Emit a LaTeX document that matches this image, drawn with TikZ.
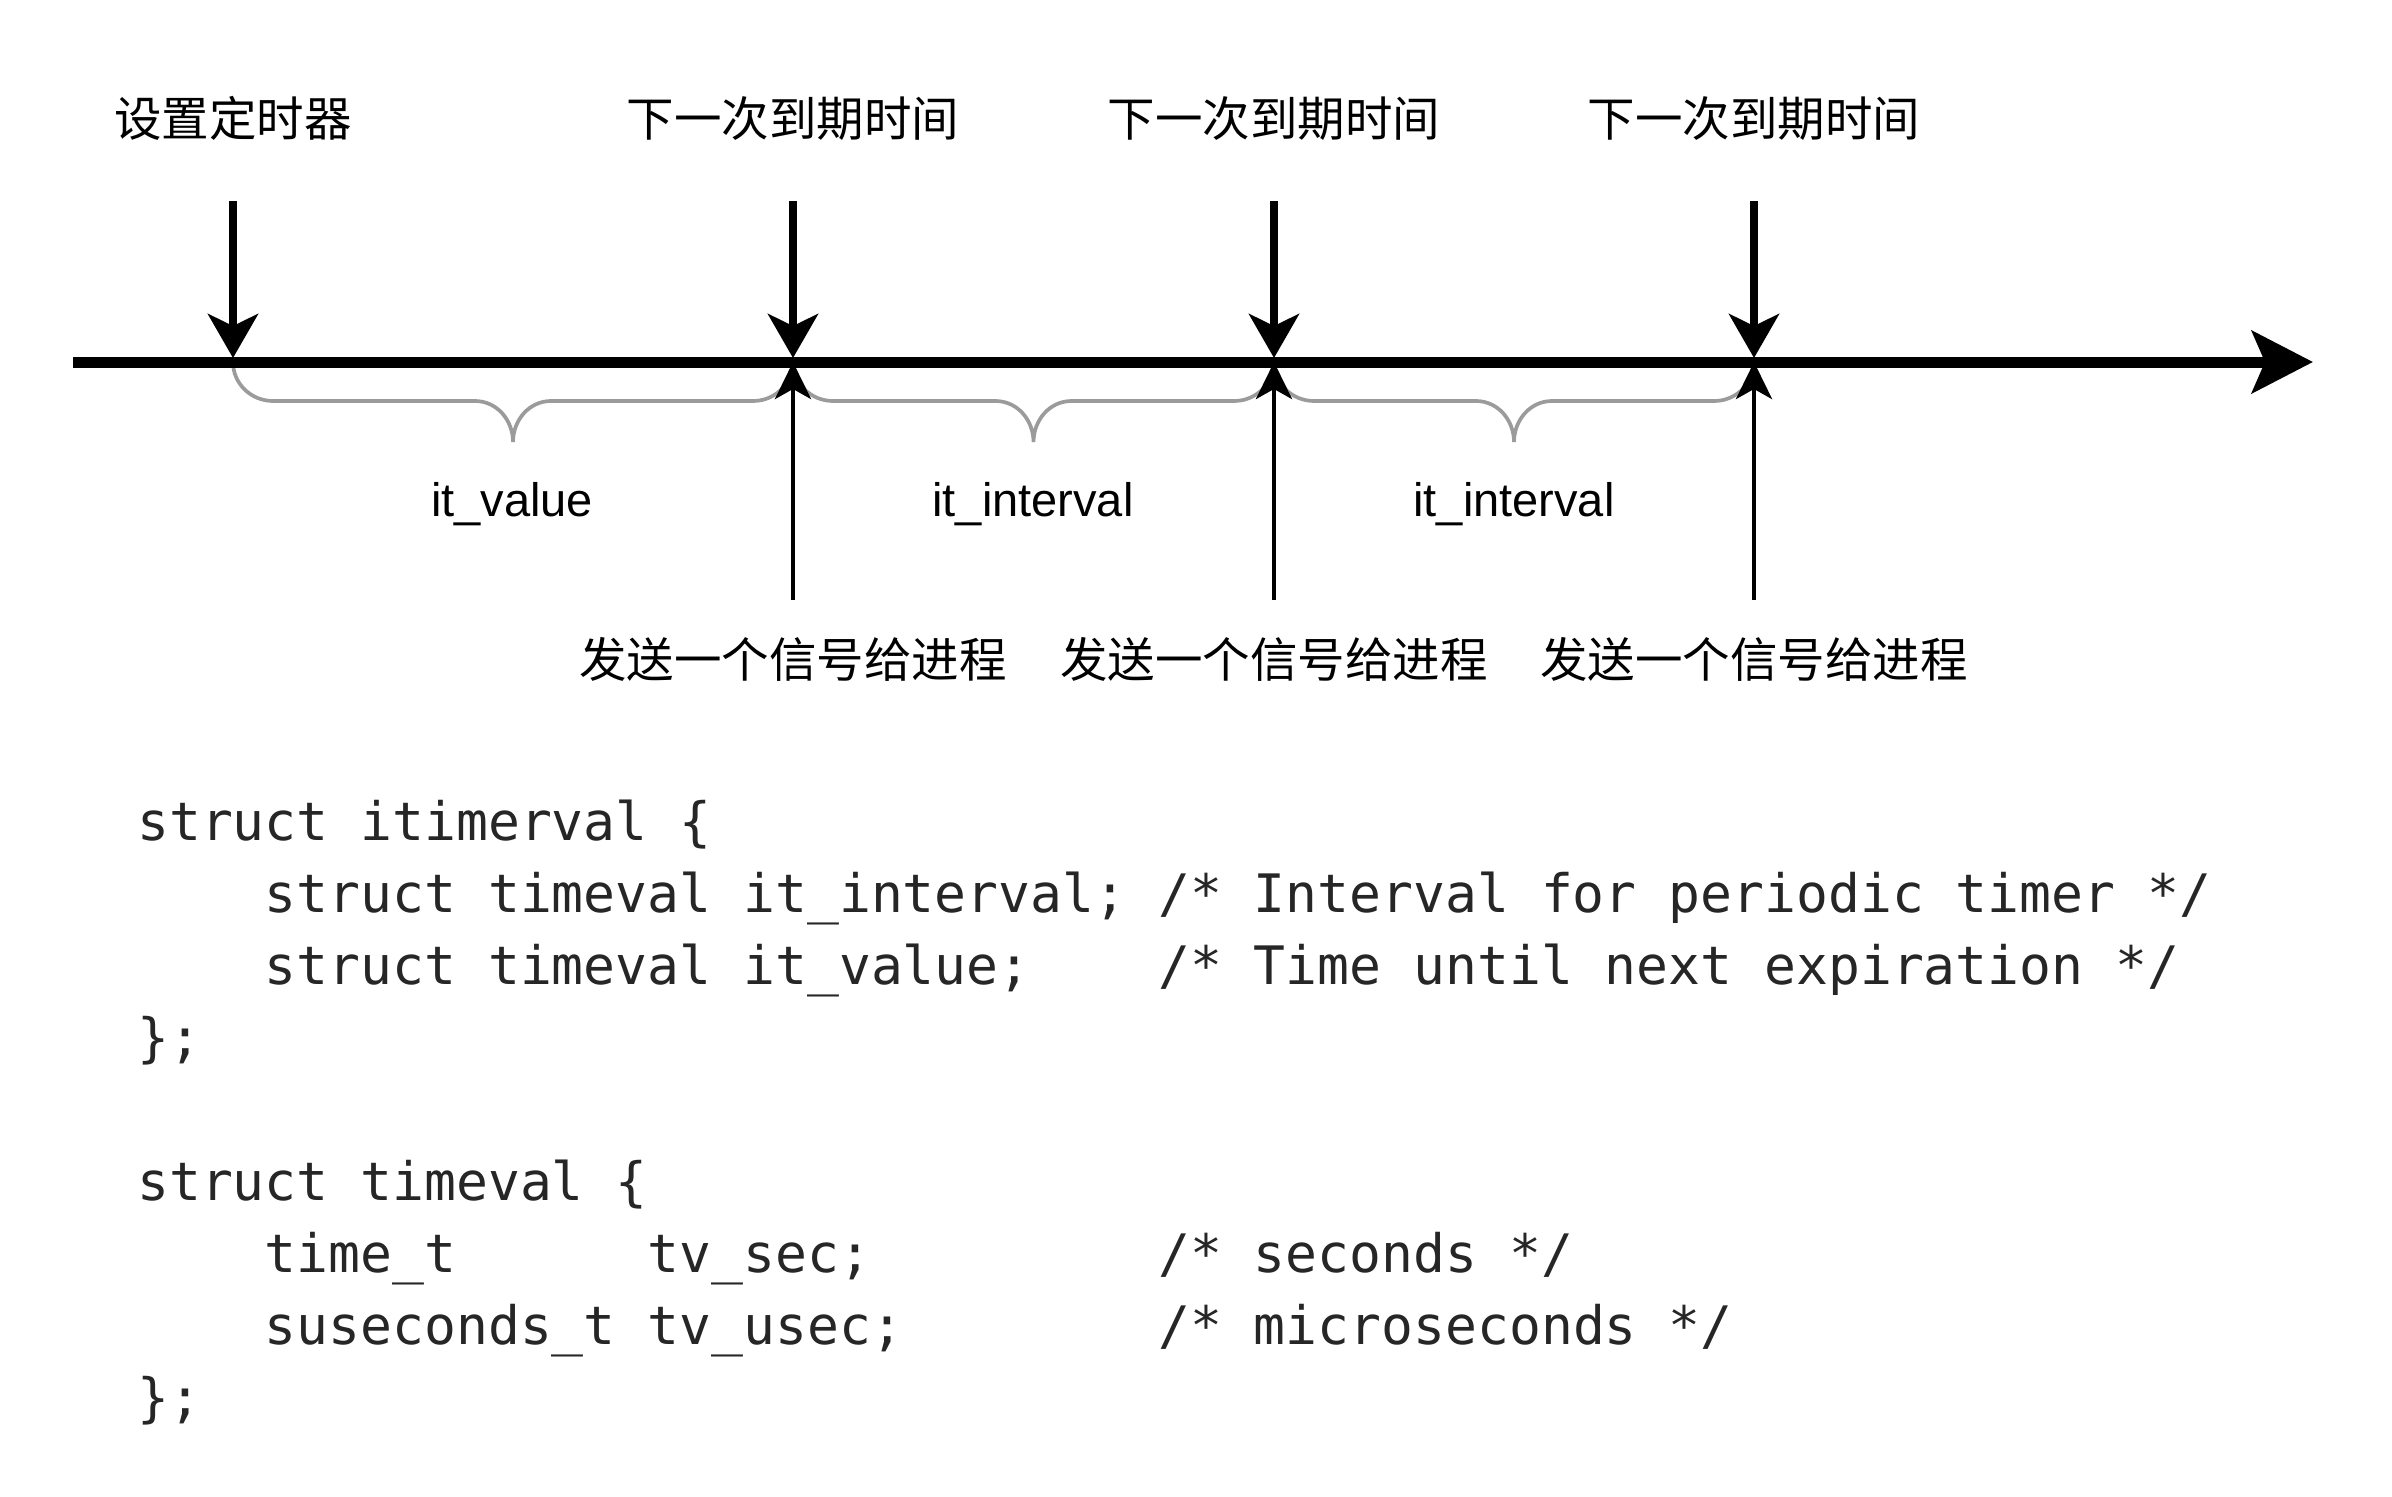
\documentclass[tikz,border=0pt]{standalone}
\usepackage{fontspec}
\setmainfont{Liberation Sans}
\newfontfamily\cjkfont{Noto Sans CJK SC}
\newfontfamily\codefont{DejaVu Sans Mono}
\usetikzlibrary{arrows.meta,calc}
\definecolor{bracegray}{HTML}{9B9B9B}
\definecolor{codecol}{HTML}{262626}
\newcommand\timebrace[2]{%
  \draw[bracestyle] (#1) to[out=-90,in=180] ($(#1)+(40,39)$)
    -- ($($(#1)!0.5!(#2)$)+(-38,39)$) to[out=0,in=90] ($($(#1)!0.5!(#2)$)+(0,80)$)
    to[out=90,in=180] ($($(#1)!0.5!(#2)$)+(38,39)$)
    -- ($(#2)+(-40,39)$) to[out=0,in=-90] (#2);}
\begin{document}
\begin{tikzpicture}[x=1pt,y=-1pt,
  axisline/.style={line width=11pt,-{Stealth[length=61pt,width=62pt,inset=13pt]}},
  downarrow/.style={line width=7.5pt,-{Stealth[length=44pt,width=50pt,inset=12pt]}},
  uparrow/.style={line width=4.5pt,-{Stealth[length=37pt,width=36pt,inset=10pt]}},
  bracestyle/.style={draw=bracegray,line width=3.7pt},
  cjklabel/.style={font=\cjkfont\fontsize{47.5}{57}\selectfont,anchor=base,inner sep=0pt},
  latlabel/.style={font=\fontsize{47}{56}\selectfont,anchor=base,inner sep=0pt},
  codeline/.style={font=\codefont\fontsize{53}{72}\selectfont,text=codecol,anchor=base west,inner sep=0pt}]
\useasboundingbox (0,0) rectangle (2392,1496);

% axis points
\coordinate (ax0) at (73,362);
\coordinate (ax1) at (2313,362);
\coordinate (t0) at (233,362);
\coordinate (t1) at (793,362);
\coordinate (t2) at (1274,362);
\coordinate (t3) at (1754,362);
\coordinate (d0) at (233,201);
\coordinate (d1) at (793,201);
\coordinate (d2) at (1274,201);
\coordinate (d3) at (1754,201);
\coordinate (u1) at (793,600);
\coordinate (u2) at (1274,600);
\coordinate (u3) at (1754,600);

% braces
\timebrace{t0}{t1}
\timebrace{t1}{t2}
\timebrace{t2}{t3}

% main axis
\draw[axisline] (ax0) -- (ax1);

% down arrows
\foreach \i in {0,1,2,3}{
  \draw[downarrow] (d\i) -- ($(t\i)+(0,-4)$);
}
% up arrows
\foreach \i in {1,2,3}{
  \draw[uparrow] (u\i) -- (t\i);
}

% top labels
\node[cjklabel] (l0) at (233,136) {设置定时器};
\node[cjklabel] (l1) at (793,136) {下一次到期时间};
\node[cjklabel] (l2) at (1274,136) {下一次到期时间};
\node[cjklabel] (l3) at (1754,136) {下一次到期时间};

% brace labels
\node[latlabel] (v1) at (512,516) {it\_value};
\node[latlabel] (i2) at (1033,516) {it\_interval};
\node[latlabel] (i3) at (1514,516) {it\_interval};

% bottom labels
\node[cjklabel] (b1) at (793,677) {发送一个信号给进程};
\node[cjklabel] (b2) at (1274,677) {发送一个信号给进程};
\node[cjklabel] (b3) at (1754,677) {发送一个信号给进程};

% code
\node[codeline] (c1) at (137,840) {struct~itimerval~\{};
\node[codeline] (c2) at (137,912) {~~~~struct~timeval~it\_interval;~/*~Interval~for~periodic~timer~*/};
\node[codeline] (c3) at (137,984) {~~~~struct~timeval~it\_value;~~~~/*~Time~until~next~expiration~*/};
\node[codeline] (c4) at (137,1056) {\};};
\node[codeline] (c5) at (137,1200) {struct~timeval~\{};
\node[codeline] (c6) at (137,1272) {~~~~time\_t~~~~~~tv\_sec;~~~~~~~~~/*~seconds~*/};
\node[codeline] (c7) at (137,1344) {~~~~suseconds\_t~tv\_usec;~~~~~~~~/*~microseconds~*/};
\node[codeline] (c8) at (137,1416) {\};};
\end{tikzpicture}
\end{document}
